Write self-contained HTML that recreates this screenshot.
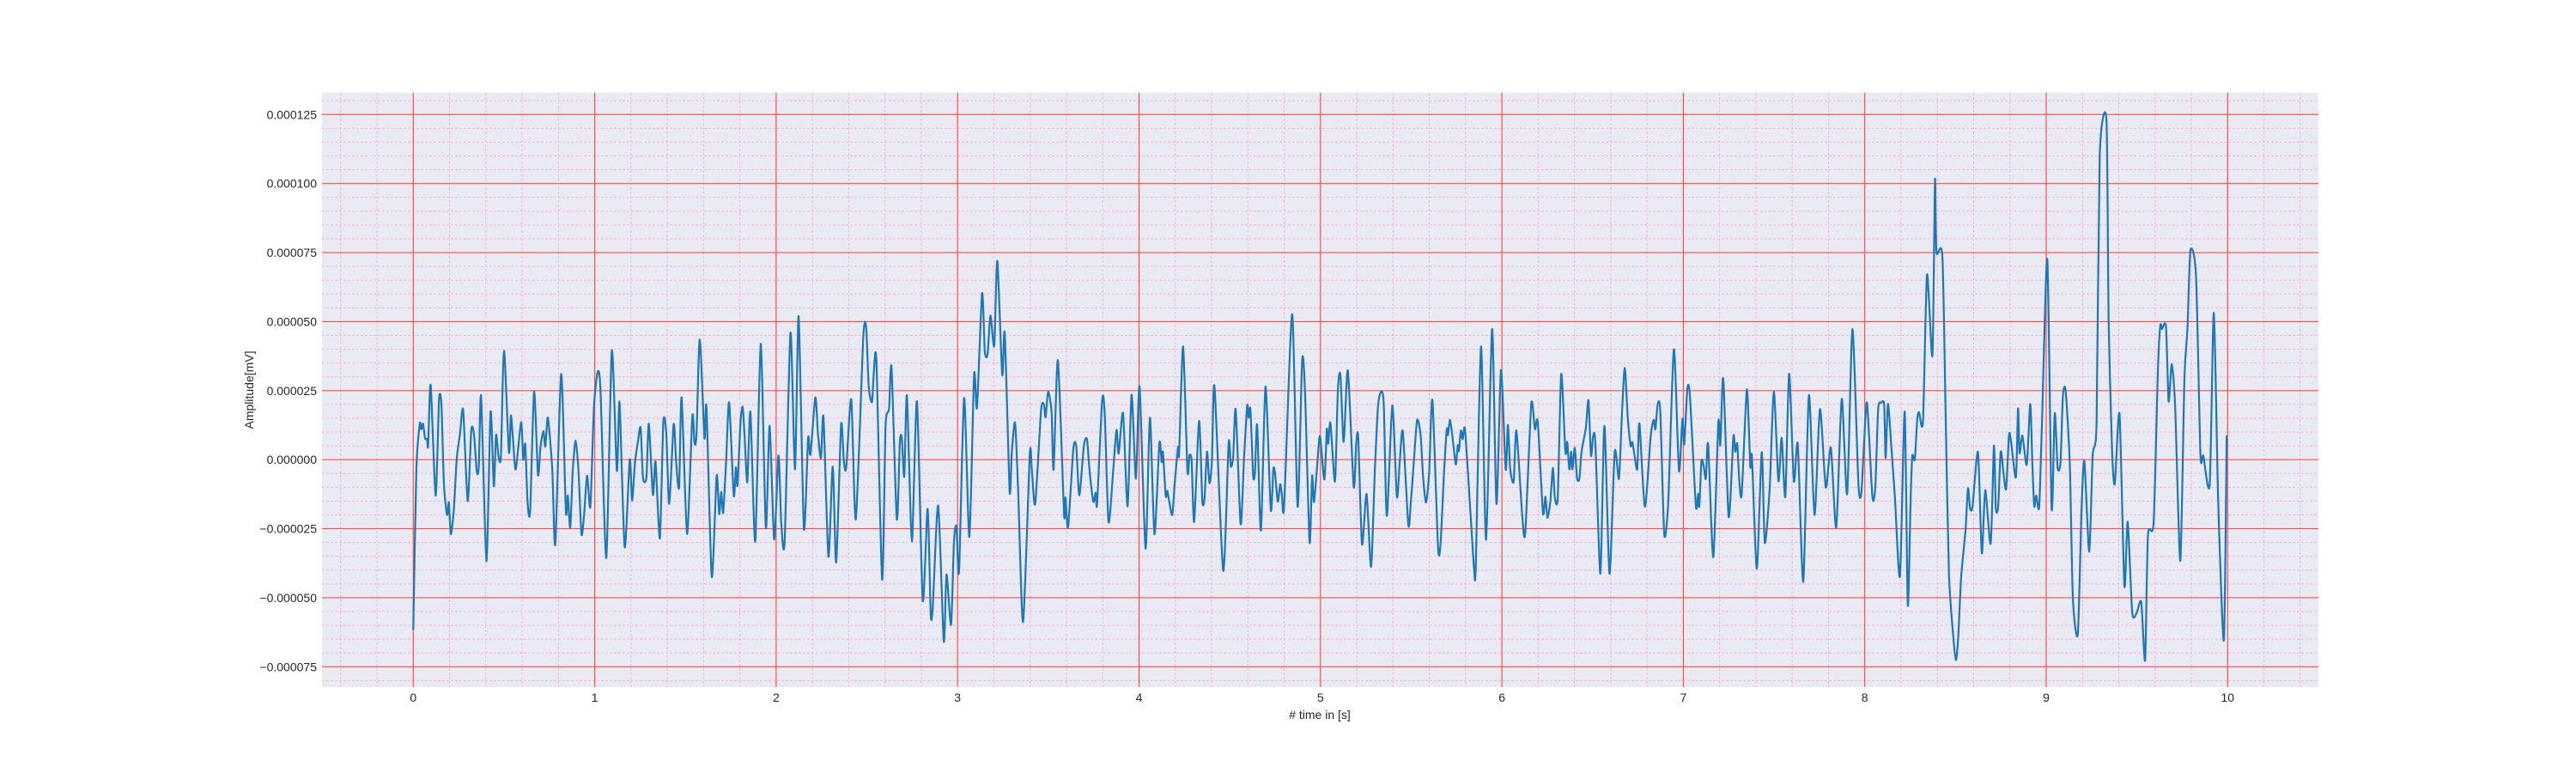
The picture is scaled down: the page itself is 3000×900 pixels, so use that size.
<!DOCTYPE html>
<html><head><meta charset="utf-8"><title>Amplitude vs time</title>
<style>
html,body{margin:0;padding:0;background:#fff;}
svg{display:block;font-family:"Liberation Sans",Arial,sans-serif;}
</style></head>
<body>
<svg id="chart" width="3000" height="900" viewBox="0 0 3000 900" xmlns="http://www.w3.org/2000/svg">
<rect x="375" y="108" width="2325" height="692" fill="#EAEAF2"/>
<g id="minor-grid"></g>
<g id="major-grid"></g>
<g id="series"></g>
<g id="yticks"></g>
<g id="xticks"></g>
<text x="1537" y="837" font-size="14" fill="#262626" text-anchor="middle"># time in [s]</text>
<text x="0" y="0" font-size="14" fill="#262626" text-anchor="middle" transform="translate(295,454) rotate(-90)">Amplitude[mV]</text>
</svg>
<script>
const xTicks = [0,1,2,3,4,5,6,7,8,9,10];
const yTicks = [-75,-50,-25,0,25,50,75,100,125];
const yTickLabels = ["\u22120.000075","\u22120.000050","\u22120.000025","0.000000","0.000025","0.000050","0.000075","0.000100","0.000125"];
const times = [0,0.017,0.036,0.044,0.054,0.065,0.076,0.082,0.096,0.123,0.142,0.155,0.169,0.186,0.196,0.207,0.223,0.240,0.257,0.275,0.300,0.320,0.335,0.350,0.361,0.374,0.403,0.426,0.444,0.456,0.470,0.483,0.500,0.527,0.538,0.549,0.565,0.594,0.606,0.617,0.630,0.644,0.666,0.687,0.701,0.717,0.728,0.742,0.766,0.783,0.815,0.841,0.852,0.865,0.879,0.895,0.911,0.927,0.941,0.958,0.976,0.996,1.017,1.032,1.064,1.094,1.122,1.137,1.165,1.193,1.206,1.222,1.238,1.253,1.266,1.285,1.298,1.321,1.335,1.359,1.378,1.394,1.411,1.435,1.449,1.465,1.479,1.509,1.538,1.550,1.561,1.579,1.605,1.616,1.645,1.672,1.686,1.697,1.708,1.724,1.741,1.766,1.778,1.787,1.803,1.815,1.825,1.841,1.858,1.885,1.915,1.943,1.964,1.989,2.013,
2.028,2.047,2.079,2.104,2.124,2.153,2.176,2.189,2.216,2.231,2.247,2.261,2.288,2.312,2.331,2.358,2.373,2.386,2.414,2.439,2.480,2.496,2.510,2.528,2.539,2.553,2.584,2.603,2.622,2.636,2.665,2.682,2.693,2.706,2.721,2.748,2.776,2.808,2.835,2.852,2.863,2.893,2.924,2.939,2.964,2.980,2.994,3.008,3.036,3.065,3.091,3.107,3.135,3.150,3.165,3.181,3.202,3.219,3.246,3.260,3.287,3.299,3.317,3.334,3.361,3.398,3.409,3.428,3.460,3.476,3.485,3.499,3.518,3.529,3.553,3.587,3.595,3.609,3.638,3.654,3.671,3.696,3.713,3.728,3.748,3.761,3.769,3.797,3.811,3.832,3.858,3.876,3.888,3.912,3.937,3.959,3.983,4.003,4.036,4.060,
4.085,4.112,4.125,4.132,4.147,4.156,4.166,4.183,4.197,4.215,4.221,4.243,4.267,4.278,4.290,4.304,4.331,4.349,4.361,4.375,4.388,4.402,4.416,4.464,4.494,4.506,4.519,4.533,4.560,4.579,4.596,4.604,4.614,4.629,4.639,4.651,4.672,4.697,4.726,4.740,4.749,4.765,4.778,4.787,4.800,4.844,4.874,4.899,4.915,4.940,4.954,4.965,4.994,5.003,5.022,5.035,5.043,5.055,5.080,5.096,5.110,5.128,5.151,5.183,5.197,5.208,5.229,5.254,5.279,5.300,5.317,5.334,5.349,5.366,5.396,5.421,5.437,5.454,5.484,5.497,5.516,5.533,5.552,5.566,5.582,5.599,5.617,5.648,5.662,5.681,5.696,5.703,5.714,5.730,5.746,5.757,5.763,5.774,5.784,5.797,5.828,5.847,5.856,5.885,5.913,5.946,5.970,5.995,6.021,6.033,6.046,6.065,6.080,
6.113,6.129,6.162,6.182,6.198,6.226,6.240,6.251,6.267,6.281,6.292,6.308,6.327,6.350,6.360,6.372,6.382,6.389,6.402,6.414,6.427,6.439,6.463,6.477,6.491,6.502,6.515,6.543,6.565,6.593,6.622,6.645,6.661,6.677,6.694,6.710,6.719,6.728,6.746,6.758,6.788,6.820,6.837,6.846,6.859,6.873,6.895,6.917,6.948,6.976,6.995,7.005,7.022,7.036,7.069,7.082,7.088,7.100,7.113,7.124,7.137,7.165,7.193,7.204,7.220,7.250,7.276,7.286,7.297,7.309,7.322,7.350,7.369,7.378,7.405,7.432,7.449,7.476,7.499,7.524,7.542,7.562,7.583,7.609,7.631,7.661,7.692,7.723,7.753,7.785,7.813,7.843,7.873,7.903,7.932,7.965,7.981,7.997,8.013,8.042,8.058,8.074,8.091,8.107,
8.115,8.128,8.147,8.166,8.194,8.220,8.237,8.253,8.262,8.276,8.289,8.299,8.321,8.343,8.373,8.387,8.395,8.428,8.447,8.464,8.487,8.502,8.515,8.531,8.555,8.569,8.580,8.594,8.624,8.645,8.664,8.694,8.712,8.722,8.735,8.749,8.763,8.779,8.795,8.806,8.833,8.845,8.853,8.869,8.893,8.912,8.924,8.934,8.945,8.961,8.976,9.006,9.030,9.047,9.063,9.079,9.092,9.107,9.130,9.147,9.174,9.194,9.210,9.237,9.256,9.278,9.295,9.332,9.344,9.363,9.378,9.404,9.431,9.449,9.474,9.498,9.524,9.545,9.561,9.592,9.616,9.629,9.638,9.660,9.675,9.692,9.711,9.739,9.762,9.779,9.795,9.826,9.850,9.866,9.901,9.924,9.948,9.979,9.995];
const ampMicro = [-61.4,-3.5,13,11,13,7.7,7.5,5,27,-13,21.7,20,-8.8,-20,-15.5,-27,-18.6,0.6,9,18,-15,10.8,9,-4.4,-2.5,23,-36.7,17.3,-9.6,9,1.1,1.4,39.4,2.7,16,8,-3.5,13.6,0,5.6,-15.5,-18.7,24.6,-5.4,4.6,10.4,4.8,15.2,-3.5,-30.6,31,-18.6,-13,-24.7,-4,6.9,-4.6,-27,-20.4,-5.8,-17,19.4,31.9,24.6,-35.6,39.4,-4,20.8,-31.7,0,-14.8,-1,6.4,11.6,-6.5,-6.5,13,-12.7,-0.7,-28.5,13.5,9.8,-16,12.8,-1,-10,22.5,-26.9,15.7,6,9,43.5,7.9,18.9,-42.4,-5.8,-19.7,-11.7,-19.2,-0.9,20.7,-12.9,-2.8,-9.3,13.1,19.2,10,-8.2,17.3,-29.6,42,-24.7,12.3,-28.9,1.5,
-22.8,-29.6,45.9,-3.5,51.9,-24.9,7.9,1.9,22.5,9,0.6,15.4,-35.1,-2.5,-37.2,12.6,-0.4,-3,21.8,-21.6,43.9,48,26.5,20.9,32.4,35.2,-43.4,12.1,18.3,33.4,-21.5,6.6,7.7,-6.1,23.2,-29.6,21.1,-50.9,-17.8,-55.6,-53.5,-16.6,-65.8,-41.6,-59.8,-29.6,-24.2,-40.5,22.3,-28,30.8,18.9,60.2,39.2,38.1,52.2,41.3,72,30.8,45.8,-11.4,2.9,13.3,-11.9,-58.8,2,-3.5,-16,17.8,19.9,15.4,24.6,17.3,-3.5,36,-19.7,-13.7,-24.4,4,4.8,-12.9,5,7.4,-4.4,-15.2,-11.9,-16,21.7,16.3,-22.6,-3.5,10.8,2.2,16.8,-16.9,23.5,-6.9,26.5,-32.2,15.2,
-27,6,-0.9,2.7,-13.1,-11.3,-15,-20,-8.5,4.6,2.2,41,-4,1.5,-0.4,-22.5,14,-14.8,-14,2.9,-8.5,-0.4,26.5,-40.2,6.1,-2.5,1.1,18.1,-23.3,0.6,19.6,15.2,18.3,-5.8,-4.6,12.6,-25.6,26.5,-18.1,-3.5,-4.6,-15.2,-8.9,-12.3,-16.6,52.7,-17,36,24.6,-29.9,-5.8,-15.2,7.7,5.3,-7.2,11,5.8,13.3,-7.9,25.1,30.8,6.4,32.3,-9.8,5.8,8.1,-30.6,-12.4,-38.8,-3.5,19.2,24.6,20,-20.4,19.6,-13.4,-0.9,10.2,-23.5,-16.6,0.4,14.4,9,-6.5,-15.5,-4.6,21.5,-31.5,-30.4,-4.8,11,8.9,14.4,7.1,-1.7,5.3,3.1,10.5,7.4,10.8,-20.7,-39.8,-38.5,41,-29,47.3,-16,32.4,-3.5,12.6,-3.5,-7.9,10.5,
-21,-26.2,20.2,11,13.6,-19.2,-13.4,-21,-15.2,-3,-13.8,-13.4,31,2.7,6.4,-3.5,2.9,-3.5,4.3,-6.7,-6.9,2.9,11.6,21.5,1.5,8.1,6.4,-41.3,12.3,-41.3,2.9,-6.9,15.7,33.2,15,5,6.4,2.9,-3.5,13.1,-17,8.4,14.4,11,20.2,17.3,-27,-15,40,-4,14.7,5.6,25.4,23.5,-16.6,-12.4,-16.9,-0.4,-2.7,-6.9,5.6,-35.3,13.6,5.3,29.3,-20.7,8.4,2.9,5.8,-8.2,-12.4,25.4,-2.5,1.1,-39.5,2.7,-30.1,-10.3,24.6,-7.7,7.9,-13.4,31.1,-7.7,5.6,-44.2,23.3,-20,18.3,-10,4.3,-24.6,22,-12.4,47.3,-8.8,-12.1,7.4,20.4,-13.4,-9.8,18.3,20.6,19.9,0.6,
20.2,4,-13.6,-42.2,17.4,-52.7,-13.6,1.4,0.1,14.5,17.2,13.9,67,37.7,101.3,75.2,73.5,11.3,-41.2,-63.4,-72.6,-64.5,-42.7,-25.7,-10.4,-17.6,-16.9,2.8,-33.9,-11,-30.4,5,-17.3,-17.3,2.8,-3.8,-10.7,8.9,6.7,-6.4,18.5,2.4,8.7,-1.8,20.2,-1.8,-16.9,-13,-17.3,11.3,72.6,-17.6,16.8,-2.9,-0.8,22.8,25,-1.8,-50.3,-63.2,-19.5,-0.5,-33.3,1.4,13.9,110,123,50.6,3.4,-8.8,16.5,-45.7,-22.5,-55.3,-55.6,-51.6,-72.6,-27.4,-22.8,33.3,48.6,47.3,48.2,21.1,34.6,19.1,-36.6,29.6,48,75.8,66.3,2.1,1.4,-9,53.2,-14.9,-65.4,8.6,20.7];

const X0 = 481.3, XS = 211.3;
const Y0 = 535.2, YS = 3.215;
function xScale(t){ return X0 + t*XS; }
function yScale(v){ return Y0 - v*YS; }
const NS = "http://www.w3.org/2000/svg";
const L = 375, R = 2700, T = 108, B = 800;

function mk(tag, attrs){ const e = document.createElementNS(NS, tag); for (const k in attrs) e.setAttribute(k, attrs[k]); return e; }

const minorG = document.getElementById('minor-grid');
for (let i = -2; i <= 52; i++) {
  const x = xScale(i*0.2);
  if (x < L || x > R || i % 5 === 0) continue;
  const ln = mk('line', {x1:x, x2:x, y1:T, y2:B, stroke:'#f4b3e2', 'stroke-width':1, 'stroke-dasharray':'3,2'});
  
  
  minorG.appendChild(ln);
}
for (let i = -17; i <= 27; i++) {
  const y = yScale(i*5);
  if (y < T || y > B || i % 5 === 0) continue;
  const ln = mk('line', {x1:L, x2:R, y1:y, y2:y, stroke:'#f4b3e2', 'stroke-width':1, 'stroke-dasharray':'3,2'});
  
  
  minorG.appendChild(ln);
}
const majorG = document.getElementById('major-grid');
const xtG = document.getElementById('xticks');
xTicks.forEach(t => {
  const x = xScale(t);
  const ln = mk('line', {x1:x, x2:x, y1:T, y2:B, stroke:'#ff4d4d', 'stroke-width':1.2});
  
  
  majorG.appendChild(ln);
  const tx = mk('text', {x:x, y:817, 'font-size':14, fill:'#262626', 'text-anchor':'middle'});
  tx.textContent = String(t);
  
  
  xtG.appendChild(tx);
});
const ytG = document.getElementById('yticks');
yTicks.forEach((v, i) => {
  const y = yScale(v);
  const ln = mk('line', {x1:L, x2:R, y1:y, y2:y, stroke:'#ff4d4d', 'stroke-width':1.2});
  
  
  majorG.appendChild(ln);
  const tx = mk('text', {x:369, y:y+5, 'font-size':14, fill:'#262626', 'text-anchor':'end'});
  tx.textContent = yTickLabels[i];
  
  
  ytG.appendChild(tx);
});
// smooth path (Catmull-Rom) through the data points
const n = Math.min(times.length, ampMicro.length);
const pts = [];
for (let i = 0; i < n; i++) pts.push([xScale(times[i]), yScale(ampMicro[i])]);
let d = 'M' + pts[0][0].toFixed(1) + ',' + pts[0][1].toFixed(1);
const k = 0.12;
for (let i = 0; i < n - 1; i++) {
  const p0 = pts[Math.max(0, i-1)], p1 = pts[i], p2 = pts[i+1], p3 = pts[Math.min(n-1, i+2)];
  const c1x = p1[0] + (p2[0]-p0[0])*k, c1y = p1[1] + (p2[1]-p0[1])*k;
  const c2x = p2[0] - (p3[0]-p1[0])*k, c2y = p2[1] - (p3[1]-p1[1])*k;
  d += 'C' + c1x.toFixed(1) + ',' + c1y.toFixed(1) + ' ' + c2x.toFixed(1) + ',' + c2y.toFixed(1) + ' ' + p2[0].toFixed(1) + ',' + p2[1].toFixed(1);
}
const path = mk('path', {d:d, fill:'none', stroke:'#1f77b4', 'stroke-width':2.2, 'stroke-linejoin':'round', 'stroke-linecap':'round'});


document.getElementById('series').appendChild(path);
</script>
</body></html>
